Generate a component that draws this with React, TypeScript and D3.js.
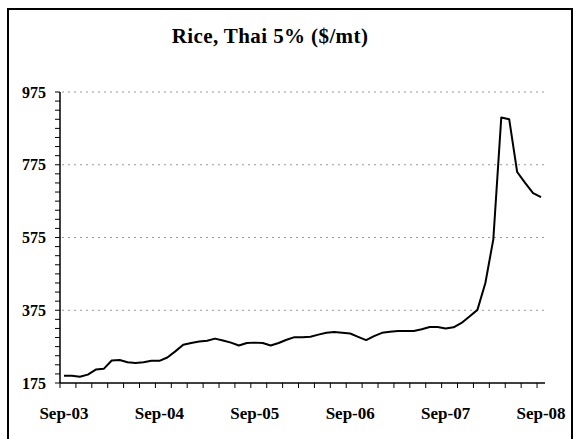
import { useEffect, useRef } from "react";
import * as d3 from "d3";

// ---- data (monthly, Sep-03 .. Sep-08) ----------------------------------
const months = [
  "Sep-03", "Oct-03", "Nov-03", "Dec-03", "Jan-04", "Feb-04", "Mar-04", "Apr-04", "May-04", "Jun-04", "Jul-04", "Aug-04",
  "Sep-04", "Oct-04", "Nov-04", "Dec-04", "Jan-05", "Feb-05", "Mar-05", "Apr-05", "May-05", "Jun-05", "Jul-05", "Aug-05",
  "Sep-05", "Oct-05", "Nov-05", "Dec-05", "Jan-06", "Feb-06", "Mar-06", "Apr-06", "May-06", "Jun-06", "Jul-06", "Aug-06",
  "Sep-06", "Oct-06", "Nov-06", "Dec-06", "Jan-07", "Feb-07", "Mar-07", "Apr-07", "May-07", "Jun-07", "Jul-07", "Aug-07",
  "Sep-07", "Oct-07", "Nov-07", "Dec-07", "Jan-08", "Feb-08", "Mar-08", "Apr-08", "May-08", "Jun-08", "Jul-08", "Aug-08",
  "Sep-08",
];

const ricePrice = [
  195, 195, 192, 198, 212, 214, 237, 238, 232, 230, 232, 236,
  236, 245, 262, 280, 285, 289, 291, 297, 292, 286, 278, 285,
  286, 285, 278, 285, 294, 301, 301, 302, 308, 313, 315, 313,
  311, 302, 293, 304, 313, 316, 318, 318, 318, 323, 329, 329,
  325, 328, 340, 358, 376, 450, 570, 905, 900, 755, 725, 697,
  686,
];

const yTicks = [175, 375, 575, 775, 975];
const xLabels = ["Sep-03", "Sep-04", "Sep-05", "Sep-06", "Sep-07", "Sep-08"];

const W = 574;
const H = 439;

const RiceChart = () => {
  const svgRef = useRef<SVGSVGElement | null>(null);

  useEffect(() => {
    const svg = d3.select(svgRef.current);
    svg.selectAll("*").remove();

    const plot = { left: 60, right: 545, top: 92, bottom: 383 };
    const serif = "Liberation Serif, DejaVu Serif, Times New Roman, serif";

    // frame
    svg.append("rect")
      .attr("x", 8).attr("y", 9)
      .attr("width", 564).attr("height", 440)
      .attr("fill", "#fff")
      .attr("stroke", "#000")
      .attr("stroke-width", 2);

    // title
    svg.append("text")
      .attr("x", 270).attr("y", 43)
      .attr("text-anchor", "middle")
      .style("font-family", serif)
      .attr("font-weight", "bold")
      .attr("font-size", 21)
      .attr("letter-spacing", 0.4)
      .text("Rice, Thai 5% ($/mt)");

    // ---- scales ----
    const x = d3.scaleBand<string>().domain(months).range([plot.left, plot.right]).padding(0);
    const y = d3.scaleLinear().domain([175, 975]).range([plot.bottom, plot.top]);

    // gridlines (dotted)
    svg.append("g")
      .selectAll("line")
      .data(yTicks.filter((t) => t > 175))
      .join("line")
      .attr("x1", plot.left + 2).attr("x2", plot.right + 2)
      .attr("y1", (d) => y(d)).attr("y2", (d) => y(d))
      .attr("stroke", "#999")
      .attr("stroke-width", 1)
      .attr("stroke-dasharray", "2,4");

    // y axis with minor ticks every 25
    const yAxis = svg.append("g");
    yAxis.append("line")
      .attr("x1", plot.left).attr("x2", plot.left)
      .attr("y1", plot.top).attr("y2", plot.bottom)
      .attr("stroke", "#000").attr("stroke-width", 1.5);
    yAxis.selectAll("line.tick")
      .data(d3.range(175, 976, 25))
      .join("line")
      .attr("class", "tick")
      .attr("x1", plot.left - 5).attr("x2", plot.left)
      .attr("y1", (d) => y(d)).attr("y2", (d) => y(d))
      .attr("stroke", "#000").attr("stroke-width", 1);
    yAxis.selectAll("text")
      .data(yTicks)
      .join("text")
      .attr("x", plot.left - 14)
      .attr("y", (d) => y(d))
      .attr("dy", "0.35em")
      .attr("text-anchor", "end")
      .style("font-family", serif)
      .attr("font-weight", "bold")
      .attr("font-size", 16)
      .text((d) => d);

    // x axis
    const xAxis = svg.append("g");
    xAxis.append("line")
      .attr("x1", plot.left).attr("x2", plot.right)
      .attr("y1", plot.bottom).attr("y2", plot.bottom)
      .attr("stroke", "#000").attr("stroke-width", 1.5);
    xAxis.selectAll("line.tick")
      .data(months.filter((_, i) => i % 2 === 0))
      .join("line")
      .attr("class", "tick")
      .attr("x1", (d) => x(d) as number).attr("x2", (d) => x(d) as number)
      .attr("y1", plot.bottom).attr("y2", plot.bottom + 5)
      .attr("stroke", "#000").attr("stroke-width", 1);
    xAxis.selectAll("text")
      .data(xLabels)
      .join("text")
      .attr("x", (d) => (x(d) as number) + x.bandwidth() / 2)
      .attr("y", 419)
      .attr("text-anchor", "middle")
      .style("font-family", serif)
      .attr("font-weight", "bold")
      .attr("font-size", 17)
      .text((d) => d);

    // price line
    const line = d3.line<number>()
      .x((_, i) => (x(months[i]) as number) + x.bandwidth() / 2)
      .y((d) => y(d));

    svg.append("path")
      .datum(ricePrice)
      .attr("fill", "none")
      .attr("stroke", "#000")
      .attr("stroke-width", 2)
      .attr("stroke-linejoin", "round")
      .attr("d", line);
  }, []);

  return (
    <svg
      ref={svgRef}
      width={W}
      height={H}
      style={{ position: "absolute", left: 0, top: 0, background: "#fff" }}
    />
  );
};

export default function App() {
  return <RiceChart />;
}
